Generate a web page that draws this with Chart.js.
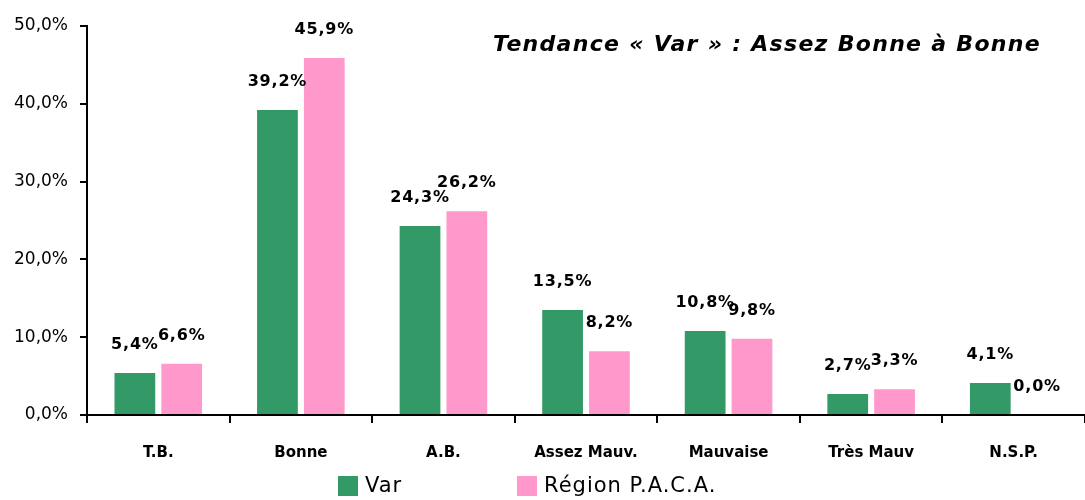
<!DOCTYPE html>
<html>
<head>
<meta charset="utf-8">
<script src="https://cdn.jsdelivr.net/npm/chart.js@4.4.1/dist/chart.umd.min.js"></script>
<style>
html,body{margin:0;padding:0;background:#fff;}
#wrap{width:1085px;height:500px;}
</style>
</head>
<body>
<div id="wrap"><canvas id="c" width="1085" height="500"></canvas></div>
<script>
const categories = ["T.B.", "Bonne", "A.B.", "Assez Mauv.", "Mauvaise", "Très Mauv", "N.S.P."];
const varValues = [5.4, 39.2, 24.3, 13.5, 10.8, 2.7, 4.1];
const pacaValues = [6.6, 45.9, 26.2, 8.2, 9.8, 3.3, 0.0];
const seriesNames = ["Var", "Région P.A.C.A."];
const seriesColors = ["#339966", "#FF99CC"];
const titleText = "Tendance « Var » : Assez Bonne à Bonne";
const FONT = "'DejaVu Sans', sans-serif";

function fmt(v) { return v.toFixed(1).replace('.', ',') + '%'; }

const labelPlugin = {
  id: 'labels',
  afterDatasetsDraw(chart) {
    const ctx = chart.ctx;
    ctx.save();
    ctx.font = "bold 16px " + FONT;
    ctx.letterSpacing = '0.8px';
    ctx.fillStyle = '#000';
    ctx.textAlign = 'center';
    ctx.textBaseline = 'middle';
    chart.data.datasets.forEach((ds, i) => {
      chart.getDatasetMeta(i).data.forEach((bar, j) => {
        ctx.fillText(fmt(ds.data[j]), bar.x, bar.y - 28);
      });
    });
    ctx.restore();
  },
  afterDraw(chart) {
    const ctx = chart.ctx;
    const a = chart.chartArea;
    ctx.save();
    ctx.font = "italic bold 22px " + FONT;
    ctx.letterSpacing = '1.3px';
    ctx.fillStyle = '#000';
    ctx.textAlign = 'right';
    ctx.textBaseline = 'middle';
    ctx.fillText(titleText, a.right - 44, 45);
    // legend
    const xs = [338, 517];
    ctx.font = "21px " + FONT;
    ctx.letterSpacing = '1px';
    ctx.textAlign = 'left';
    chart.data.datasets.forEach((ds, i) => {
      ctx.fillStyle = ds.backgroundColor;
      ctx.fillRect(xs[i], 476, 20, 20);
      ctx.fillStyle = '#000';
      ctx.fillText(ds.label, xs[i] + 27, 487);
    });
    ctx.restore();
  }
};

new Chart(document.getElementById('c'), {
  type: 'bar',
  data: {
    labels: categories,
    datasets: [
      { label: seriesNames[0], data: varValues, backgroundColor: seriesColors[0] },
      { label: seriesNames[1], data: pacaValues, backgroundColor: seriesColors[1] }
    ]
  },
  options: {
    responsive: false,
    animation: false,
    devicePixelRatio: 1,
    layout: { padding: { top: 26, right: 0, left: 0, bottom: 40 } },
    categoryPercentage: 0.657,
    barPercentage: 0.87,
    plugins: { legend: { display: false }, title: { display: false }, tooltip: { enabled: false } },
    scales: {
      x: {
        grid: { drawOnChartArea: false, drawTicks: true, tickLength: 8, color: '#000', lineWidth: 2, offset: true },
        border: { color: '#000', width: 2 },
        ticks: { color: '#000', font: { family: FONT, size: 15, weight: 'bold' }, padding: 21, maxRotation: 0 },
        afterFit(s) { s.height = 45; }
      },
      y: {
        min: 0, max: 50,
        grid: { drawOnChartArea: false, drawTicks: true, tickLength: 7, color: '#000', lineWidth: 2 },
        border: { color: '#000', width: 2 },
        ticks: { stepSize: 10, color: '#000', font: { family: FONT, size: 17 }, padding: 12, callback: v => fmt(v) },
        afterFit(s) { s.width = 87; }
      }
    }
  },
  plugins: [labelPlugin]
});
</script>
</body>
</html>
